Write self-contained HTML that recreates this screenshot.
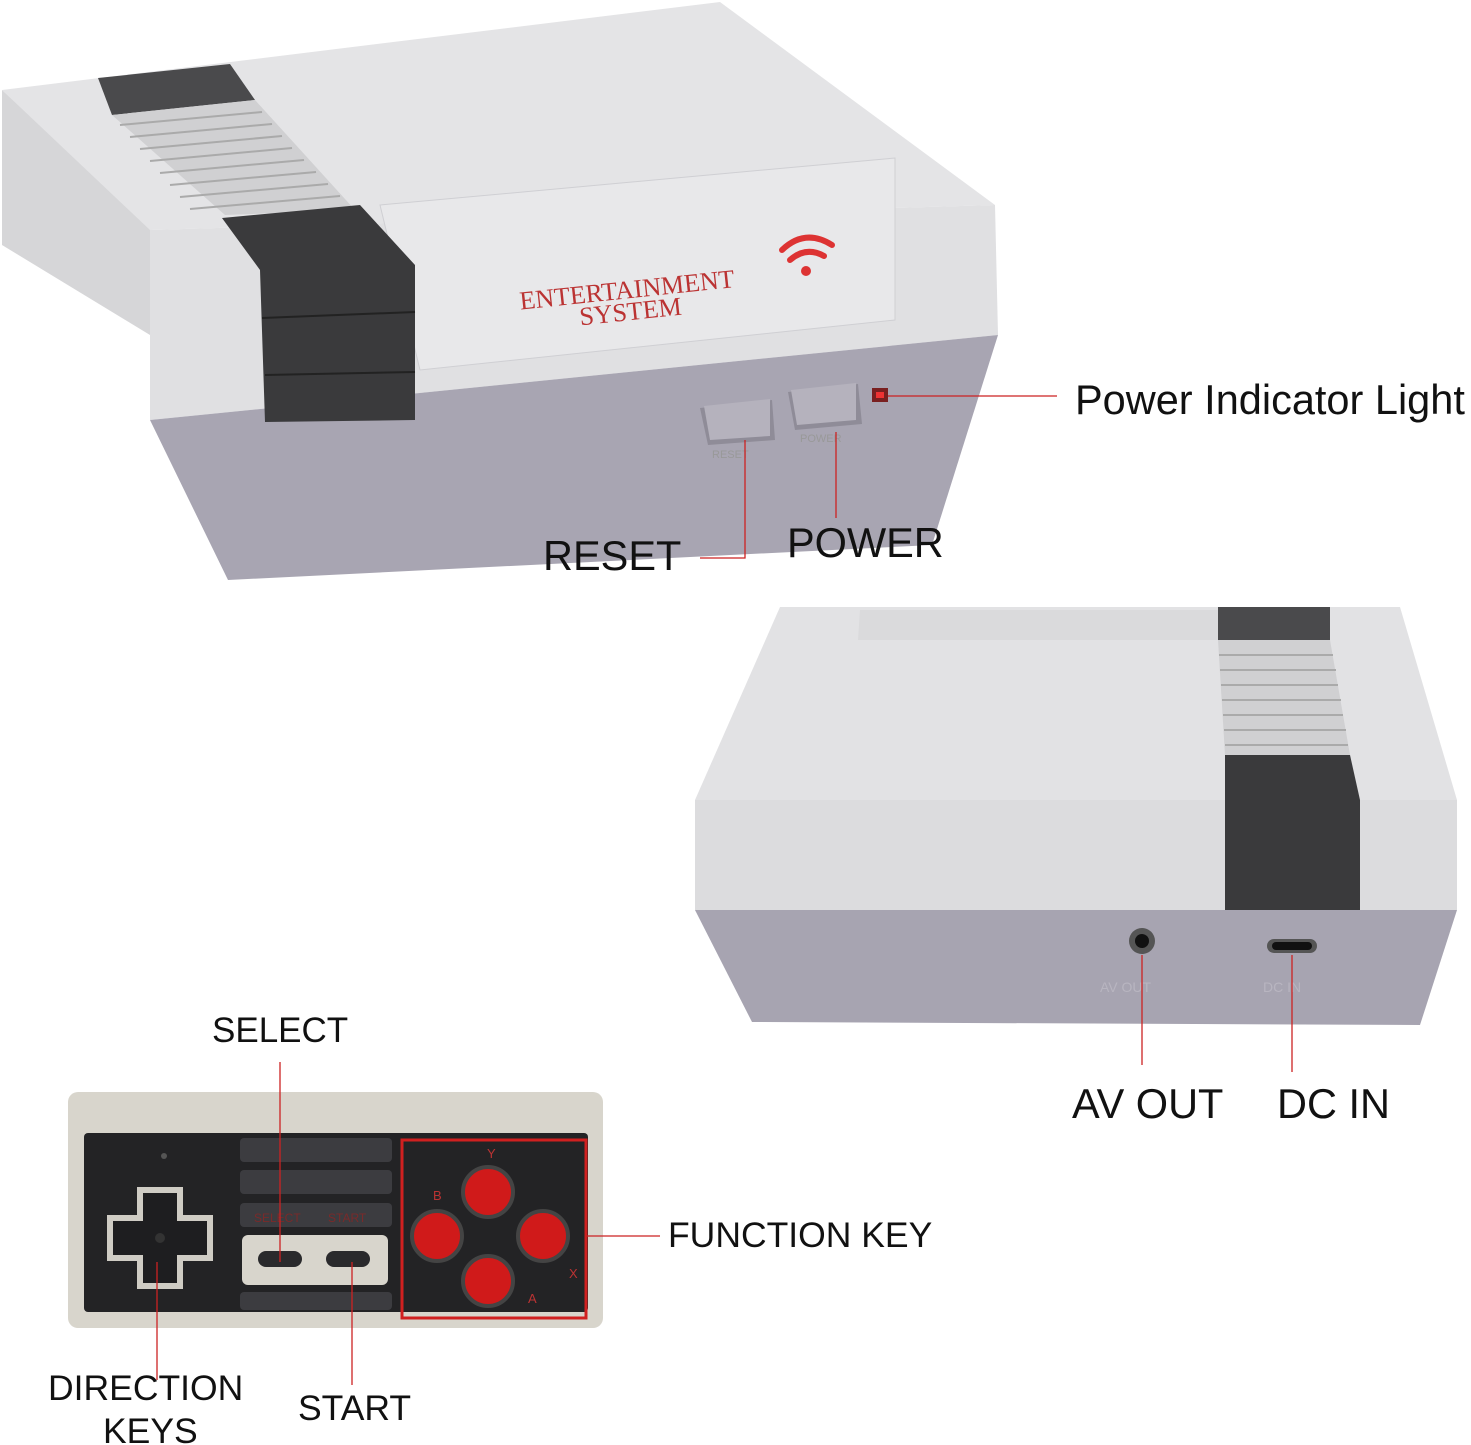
<!DOCTYPE html>
<html><head><meta charset="utf-8"><style>
html,body{margin:0;padding:0;background:#fff}
svg{display:block}
text{font-family:"Liberation Sans",sans-serif;fill:#111}
</style></head><body>
<svg width="1471" height="1445" viewBox="0 0 1471 1445" xmlns="http://www.w3.org/2000/svg">
<!-- Top console -->
<polygon points="2,90 150,225 150,335 2,245" fill="#d6d6d8"/>
<polygon points="2,90 720,2 995,205 150,230" fill="#e4e4e6"/>
<polygon points="150,230 995,205 998,335 150,420" fill="#e0e0e2"/>
<polygon points="150,420 998,335 932,545 228,580" fill="#a8a5b2"/>
<polygon points="380,205 895,158 895,320 420,370" fill="#e8e8ea" stroke="#cfcfd3"/>
<!-- stripes -->
<polygon points="98,78 230,64 255,100 112,115" fill="#4a4a4c"/>
<polygon points="112,115 255,100 355,210 225,215" fill="#d0d0d2"/>
<g stroke="#aaa" stroke-width="2">
<line x1="120" y1="125" x2="262" y2="112"/><line x1="130" y1="137" x2="272" y2="124"/>
<line x1="140" y1="149" x2="282" y2="136"/><line x1="150" y1="161" x2="292" y2="148"/>
<line x1="160" y1="173" x2="304" y2="160"/><line x1="170" y1="185" x2="316" y2="172"/>
<line x1="180" y1="197" x2="328" y2="184"/><line x1="190" y1="209" x2="340" y2="196"/>
</g>
<polygon points="222,218 360,205 415,265 415,420 265,422 260,270" fill="#3a3a3c"/>
<line x1="262" y1="318" x2="415" y2="312" stroke="#222" stroke-width="2"/>
<line x1="265" y1="375" x2="415" y2="372" stroke="#222" stroke-width="2"/>
<text x="518" y="298" font-size="26" style="fill:#b33;font-family:'Liberation Serif',serif" transform="rotate(-6 630 280)">ENTERTAINMENT</text>
<text x="578" y="320" font-size="26" style="fill:#b33;font-family:'Liberation Serif',serif" transform="rotate(-6 630 300)">SYSTEM</text>
<g fill="none" stroke="#d33" stroke-width="6" stroke-linecap="round">
<path d="M782,250 Q805,228 832,245"/><path d="M790,260 Q806,246 824,256"/>
</g>
<circle cx="806" cy="271" r="5" fill="#d33"/>
<!-- buttons -->
<polygon points="700,408 772,400 775,440 708,445" fill="#8f8c98"/>
<polygon points="704,406 770,399 770,436 710,440" fill="#b5b2bd"/>
<polygon points="788,392 858,384 862,424 795,430" fill="#8f8c98"/>
<polygon points="791,390 856,383 856,420 797,425" fill="#b5b2bd"/>
<text x="712" y="458" font-size="11" style="fill:#999">RESET</text>
<text x="800" y="442" font-size="11" style="fill:#999">POWER</text>
<rect x="872" y="388" width="16" height="14" fill="#7a2020"/>
<rect x="876" y="392" width="8" height="6" fill="#e33"/>
<!-- Bottom-right console -->
<polygon points="780,607 1400,607 1457,800 695,800" fill="#e2e2e4"/>
<polygon points="860,610 1218,610 1222,640 858,640" fill="#dadadc"/>
<rect x="695" y="800" width="762" height="110" fill="#dcdcde"/>
<polygon points="695,910 1457,910 1420,1025 752,1022" fill="#a7a4b1"/>
<rect x="1218" y="607" width="112" height="33" fill="#4a4a4c"/>
<polygon points="1218,640 1330,640 1350,755 1225,755" fill="#d0d0d2"/>
<g stroke="#aaa" stroke-width="2">
<line x1="1219" y1="655" x2="1333" y2="655"/><line x1="1220" y1="670" x2="1336" y2="670"/>
<line x1="1221" y1="685" x2="1338" y2="685"/><line x1="1222" y1="700" x2="1341" y2="700"/>
<line x1="1223" y1="715" x2="1343" y2="715"/><line x1="1224" y1="730" x2="1346" y2="730"/>
<line x1="1225" y1="745" x2="1348" y2="745"/>
</g>
<polygon points="1225,755 1350,755 1360,800 1360,910 1225,910" fill="#3a3a3c"/>
<circle cx="1142" cy="941" r="13" fill="#555"/><circle cx="1142" cy="941" r="7" fill="#111"/>
<rect x="1267" y="939" width="50" height="14" rx="7" fill="#555"/><rect x="1272" y="942" width="40" height="8" rx="4" fill="#111"/>
<text x="1100" y="992" font-size="14" style="fill:#b8b5c0">AV OUT</text>
<text x="1263" y="992" font-size="14" style="fill:#b8b5c0">DC IN</text>
<!-- Controller -->
<rect x="68" y="1092" width="535" height="236" rx="10" fill="#d8d5cc"/>
<rect x="84" y="1133" width="504" height="179" rx="4" fill="#232325"/>
<rect x="240" y="1138" width="152" height="24" rx="4" fill="#3c3c40"/>
<rect x="240" y="1170" width="152" height="24" rx="4" fill="#3c3c40"/>
<rect x="240" y="1203" width="152" height="24" rx="4" fill="#3c3c40"/>
<rect x="240" y="1292" width="152" height="18" rx="4" fill="#3c3c40"/>
<text x="254" y="1222" font-size="12" style="fill:#7a2a2a">SELECT</text>
<text x="328" y="1222" font-size="12" style="fill:#7a2a2a">START</text>
<rect x="242" y="1235" width="146" height="50" rx="6" fill="#d8d5cc"/>
<rect x="258" y="1251" width="44" height="16" rx="8" fill="#2a2a2c"/>
<rect x="326" y="1251" width="44" height="16" rx="8" fill="#2a2a2c"/>
<circle cx="164" cy="1156" r="3" fill="#555"/>
<path d="M137,1187 h46 v28 h30 v46 h-30 v28 h-46 v-28 h-30 v-46 h30 z" fill="#cfccc4"/>
<path d="M143,1193 h34 v28 h30 v34 h-30 v28 h-34 v-28 h-30 v-34 h30 z" fill="#1e1e20"/>
<circle cx="160" cy="1238" r="5" fill="#333"/>
<rect x="402" y="1140" width="184" height="178" fill="none" stroke="#d02020" stroke-width="3"/>
<g fill="#d01a1a" stroke="#444" stroke-width="4">
<circle cx="488" cy="1192" r="25"/><circle cx="437" cy="1236" r="25"/>
<circle cx="543" cy="1236" r="25"/><circle cx="488" cy="1281" r="25"/>
</g>
<g font-size="13">
<text x="487" y="1158" style="fill:#b33">Y</text><text x="433" y="1200" style="fill:#b33">B</text>
<text x="569" y="1278" style="fill:#b33">X</text><text x="528" y="1303" style="fill:#b33">A</text>
</g>
<!-- leader lines -->
<g stroke="#c22" stroke-width="1.3" fill="none">
<line x1="888" y1="396" x2="1057" y2="396"/>
<polyline points="745,440 745,558 700,558"/>
<line x1="836" y1="432" x2="836" y2="518"/>
<line x1="1142" y1="955" x2="1142" y2="1065"/>
<line x1="1292" y1="955" x2="1292" y2="1072"/>
<line x1="280" y1="1062" x2="280" y2="1262"/>
<line x1="157" y1="1262" x2="157" y2="1380"/>
<line x1="352" y1="1262" x2="352" y2="1385"/>
<line x1="586" y1="1236" x2="660" y2="1236"/>
</g>
<!-- labels -->
<text x="1075" y="414" font-size="41.5">Power Indicator Light</text>
<text x="543" y="570" font-size="41.5">RESET</text>
<text x="787" y="557" font-size="41.5">POWER</text>
<text x="1072" y="1118" font-size="41.5">AV OUT</text>
<text x="1277" y="1118" font-size="41.5">DC IN</text>
<text x="212" y="1042" font-size="35">SELECT</text>
<text x="668" y="1247" font-size="35.5">FUNCTION KEY</text>
<text x="48" y="1400" font-size="35.5">DIRECTION</text>
<text x="103" y="1443" font-size="35.5">KEYS</text>
<text x="298" y="1420" font-size="35.5">START</text>
</svg>
</body></html>
